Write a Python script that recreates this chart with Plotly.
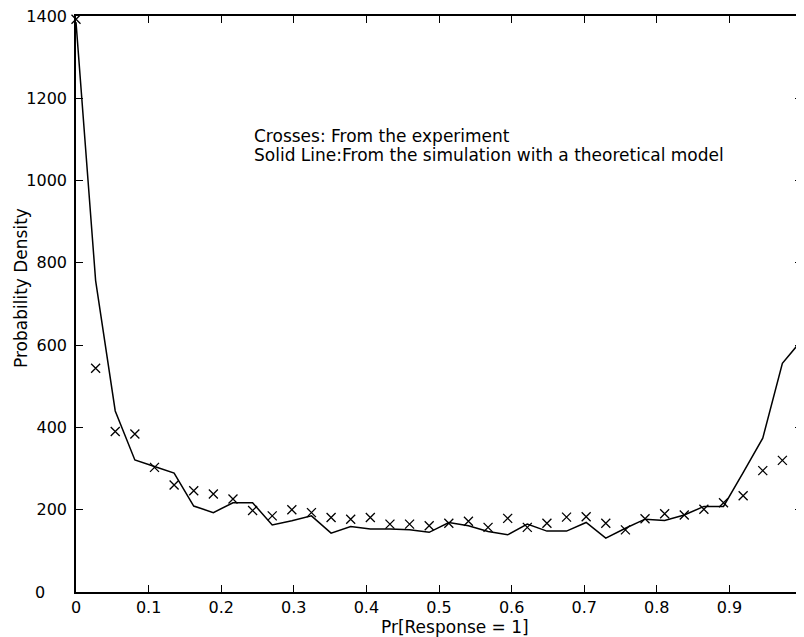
import plotly.graph_objects as go

# bin centres x = k/37, k = 0..37
k_idx = list(range(38))
x_vals = [k / 37 for k in k_idx]

# Crosses: from the experiment
experiment = [1392, 544, 390, 384, 303, 260, 246, 238, 226, 198,
              185, 200, 193, 181, 177, 181, 165, 165, 161, 167,
              172, 157, 179, 157, 167, 182, 183, 167, 151, 178,
              190, 187, 201, 217, 234, 295, 320, 706]

# Solid line: from the simulation with a theoretical model
simulation = [1385, 757, 440, 321, 305, 289, 209, 193, 217, 217,
              163, 173, 185, 143, 159, 153, 153, 151, 145, 169,
              161, 147, 139, 165, 148, 148, 169, 131, 155, 177,
              174, 187, 208, 208, 290, 374, 556, 613]

x_ticks = [0, 0.1, 0.2, 0.3, 0.4, 0.5, 0.6, 0.7, 0.8, 0.9]
x_tick_text = ["0", "0.1", "0.2", "0.3", "0.4", "0.5", "0.6", "0.7", "0.8", "0.9"]
y_ticks = [0, 200, 400, 600, 800, 1000, 1200, 1400]
y_tick_text = ["0", "200", "400", "600", "800", "1000", "1200", "1400"]

FONT = "DejaVu Sans, Liberation Sans, Arial, sans-serif"
FS = 17
TICK_FS = 16

# the page body has an 8px default margin: size the figure to fill the rest
OFF = 8
W, H = 804 - OFF, 637 - OFF
L, R, T, B = 68, 2, 8, 45
PW, PH = W - L - R, H - T - B


def px_x(px):
    """page pixel x -> paper coordinate"""
    return (px - OFF - L) / PW


def px_y(py):
    """page pixel y -> paper coordinate"""
    return (H - B - (py - OFF)) / PH


fig = go.Figure()
fig.add_trace(go.Scatter(x=x_vals, y=simulation, mode="lines",
                         line=dict(color="black", width=1.5),
                         showlegend=False, hoverinfo="skip"))
fig.add_trace(go.Scatter(x=x_vals, y=experiment, mode="markers",
                         marker=dict(symbol="x-thin", size=9,
                                     line=dict(color="black", width=1.3)),
                         showlegend=False, cliponaxis=False))

axis_common = dict(ticks="inside", ticklen=7, tickwidth=1.2, tickcolor="black",
                   showline=True, linecolor="black", linewidth=1.5, mirror="ticks",
                   showgrid=False, zeroline=False, automargin=False,
                   ticklabeloverflow="allow",
                   tickfont=dict(family=FONT, size=TICK_FS, color="black"))

fig.update_layout(
    width=W, height=H,
    margin=dict(l=L, r=R, t=T, b=B, autoexpand=False),
    paper_bgcolor="white", plot_bgcolor="white",
    font=dict(family=FONT, size=FS, color="black"),
    xaxis=dict(range=[0, 1], tickvals=x_ticks, ticktext=x_tick_text,
               ticklabelstandoff=0, **axis_common),
    yaxis=dict(range=[0, 1400], tickvals=y_ticks[1:], ticktext=y_tick_text[1:],
               ticklabelstandoff=4, **axis_common),
)

# MATLAB-style "0" on the y axis (left-aligned with the 3-digit labels)
fig.add_annotation(x=px_x(40), xref="paper", y=y_ticks[0], yref="y",
                   text=y_tick_text[0], showarrow=False,
                   xanchor="center", yanchor="middle",
                   font=dict(family=FONT, size=TICK_FS, color="black"))

# axis titles
fig.add_annotation(x=px_x(455), xref="paper", y=px_y(627), yref="paper",
                   text="Pr[Response = 1]", showarrow=False,
                   xanchor="center", yanchor="middle", borderpad=0,
                   font=dict(family=FONT, size=FS, color="black"))
fig.add_annotation(x=px_x(21), xref="paper", y=px_y(288), yref="paper",
                   text="Probability Density", showarrow=False, textangle=-90,
                   xanchor="center", yanchor="middle",
                   font=dict(family=FONT, size=FS, color="black"))

# in-plot note
fig.add_annotation(x=px_x(252), xref="paper", y=px_y(136), yref="paper",
                   text="Crosses: From the experiment",
                   showarrow=False, xanchor="left", yanchor="middle",
                   font=dict(family=FONT, size=FS, color="black"))
fig.add_annotation(x=px_x(252), xref="paper", y=px_y(155), yref="paper",
                   text="Solid Line:From the simulation with a theoretical model",
                   showarrow=False, xanchor="left", yanchor="middle",
                   font=dict(family=FONT, size=FS, color="black"))

fig.write_html("out.html")
